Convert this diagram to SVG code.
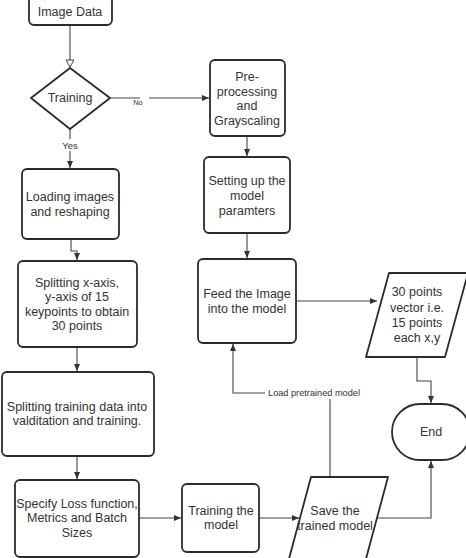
<svg xmlns="http://www.w3.org/2000/svg" width="466" height="558" viewBox="0 0 466 558">
<style>
.box{fill:#fff;stroke:#2b2b2b;stroke-width:1.8;stroke-linejoin:round}
.t{font-family:"Liberation Sans",Arial,sans-serif;font-size:12.5px;fill:#333;text-anchor:middle;dominant-baseline:central}
.c{fill:none;stroke:#444;stroke-width:1.1}
.lbl{font-family:"Liberation Sans",Arial,sans-serif;fill:#333;text-anchor:middle;dominant-baseline:central}
</style>
<defs>
<marker id="ah" markerUnits="userSpaceOnUse" markerWidth="8" markerHeight="8" refX="7" refY="4" orient="auto">
<path d="M0,1 L7,4 L0,7 Z" fill="#333"/>
</marker>
<marker id="oh" markerUnits="userSpaceOnUse" markerWidth="10" markerHeight="10" refX="8" refY="5" orient="auto">
<path d="M1,1 L8,5 L1,9 Z" fill="#fff" stroke="#444" stroke-width="1"/>
</marker>
</defs>
<rect width="466" height="558" fill="#fff"/>
<g id="connectors">
<path class="c" d="M70,25 V67" marker-end="url(#oh)"/>
<path class="c" d="M110,98 H209" marker-end="url(#ah)"/>
<path class="c" d="M70,129 V168" marker-end="url(#ah)"/>
<path class="c" d="M247,136 V156" marker-end="url(#ah)"/>
<path class="c" d="M247,233 V258" marker-end="url(#ah)"/>
<path class="c" d="M71,239 V251 H77 V260" marker-end="url(#ah)"/>
<path class="c" d="M77,347 V371" marker-end="url(#ah)"/>
<path class="c" d="M77,456 V479" marker-end="url(#ah)"/>
<path class="c" d="M139,518 H181" marker-end="url(#ah)"/>
<path class="c" d="M259,518 H299" marker-end="url(#ah)"/>
<path class="c" d="M296,301 H377" marker-end="url(#ah)"/>
<path class="c" d="M417,357 V381 H431 V403" marker-end="url(#ah)"/>
<path class="c" d="M377,518 H431 V461" marker-end="url(#ah)"/>
<path class="c" d="M330,477 V393 H233 V344" marker-end="url(#ah)"/>
<rect x="140" y="97" width="9" height="10" fill="#fff"/>
<text class="lbl" x="138" y="102" font-size="7.5">No</text>
<rect x="61" y="139" width="19" height="12" fill="#fff"/>
<text class="lbl" x="70" y="145" font-size="9.5">Yes</text>
<rect x="265" y="387" width="99" height="12" fill="#fff"/>
<text class="lbl" x="314" y="393" font-size="9.2">Load pretrained model</text>
</g>
<g id="image-data">
<rect class="box" x="29" y="-4" width="83" height="29" rx="5"/>
<text class="t" x="70" y="12">Image Data</text>
</g>
<g id="training">
<path class="box" d="M70,68 L110,98 L70,129 L31,98 Z"/>
<text class="t" x="70" y="98">Training</text>
</g>
<g id="preprocessing">
<rect class="box" x="210" y="60" width="75" height="76" rx="5"/>
<text class="t" x="247" y="77">Pre-</text>
<text class="t" x="247" y="92">processing</text>
<text class="t" x="247" y="106">and</text>
<text class="t" x="247" y="121">Grayscaling</text>
</g>
<g id="setting">
<rect class="box" x="204" y="157" width="86" height="76" rx="5"/>
<text class="t" x="247" y="181">Setting up the</text>
<text class="t" x="247" y="196">model</text>
<text class="t" x="247" y="211">paramters</text>
</g>
<g id="feed">
<rect class="box" x="198" y="259" width="98" height="84" rx="5"/>
<text class="t" x="247" y="294">Feed the Image</text>
<text class="t" x="247" y="309">into the model</text>
</g>
<g id="points">
<path class="box" d="M389,273 L468,273 L445,357 L366,357 Z"/>
<text class="t" x="417" y="292">30 points</text>
<text class="t" x="417" y="308">vector i.e.</text>
<text class="t" x="417" y="323">15 points</text>
<text class="t" x="417" y="338">each x,y</text>
</g>
<g id="end">
<rect class="box" x="392" y="404" width="78" height="56" rx="28"/>
<text class="t" x="431" y="432">End</text>
</g>
<g id="loading">
<rect class="box" x="22" y="169" width="97" height="70" rx="5"/>
<text class="t" x="70" y="197">Loading images</text>
<text class="t" x="70" y="212">and reshaping</text>
</g>
<g id="splitting-axis">
<rect class="box" x="18" y="261" width="119" height="86" rx="5"/>
<text class="t" x="77" y="283">Splitting x-axis,</text>
<text class="t" x="77" y="297">y-axis of 15</text>
<text class="t" x="77" y="312">keypoints to obtain</text>
<text class="t" x="77" y="326">30 points</text>
</g>
<g id="splitting-training">
<rect class="box" x="2" y="372" width="152" height="84" rx="5"/>
<text class="t" x="77" y="407">Splitting training data into</text>
<text class="t" x="77" y="421">valditation and training.</text>
</g>
<g id="specify">
<rect class="box" x="15" y="480" width="124" height="77" rx="5"/>
<text class="t" x="77" y="504">Specify Loss function,</text>
<text class="t" x="77" y="518">Metrics and Batch</text>
<text class="t" x="77" y="533">Sizes</text>
</g>
<g id="training-model">
<rect class="box" x="182" y="484" width="77" height="68" rx="5"/>
<text class="t" x="221" y="511">Training the</text>
<text class="t" x="221" y="525">model</text>
</g>
<g id="save">
<path class="box" d="M311,477 L388,477 L363,570 L286,570 Z"/>
<text class="t" x="335" y="511">Save the</text>
<text class="t" x="335" y="526">trained model</text>
</g>
</svg>
